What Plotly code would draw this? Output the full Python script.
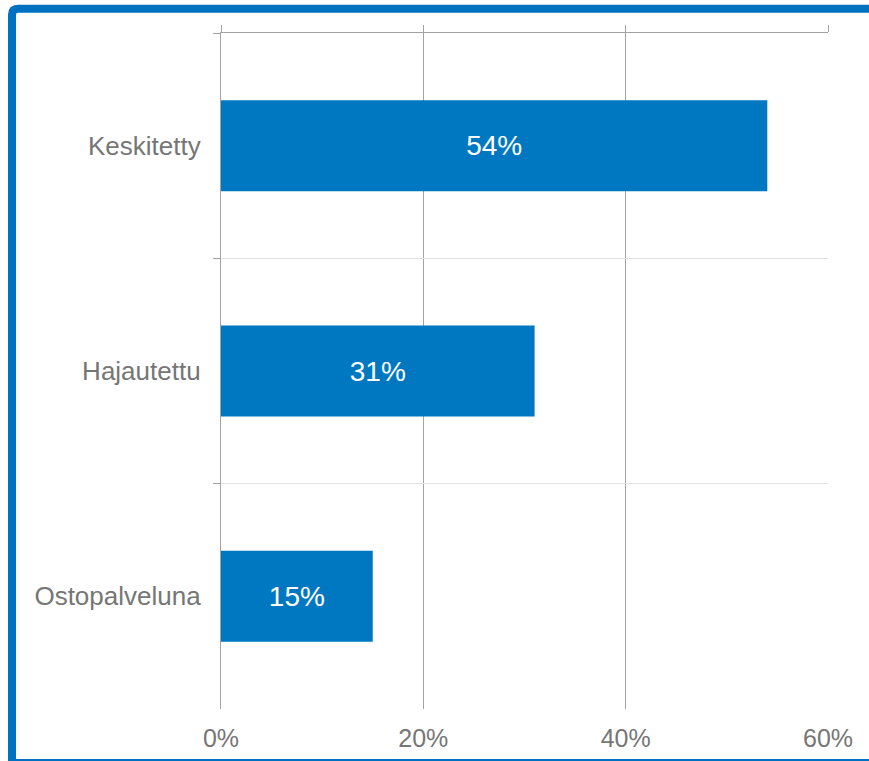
import plotly.graph_objects as go

categories = ["Keskitetty", "Hajautettu", "Ostopalveluna"]
values = [54, 31, 15]
x_ticks = [0, 20, 40, 60]
x_tick_labels = ["0%", "20%", "40%", "60%"]

W, H = 869, 761
L, R, T, B = 221, 41, 33, 52
pw, ph = W - L - R, H - T - B

def px_x(px):
    return (px - L) / pw

def px_y(py):
    return (H - B - py) / ph

BLUE = "#0078C1"
FRAME = "#0070C0"
AXIS = "#A3A3A3"
GRID = "#E2E2E2"
TXT = "#767676"
FONT = "Liberation Sans, Arial, sans-serif"

fig = go.Figure()
fig.add_trace(go.Bar(
    x=values, y=categories, orientation="h",
    marker=dict(color=BLUE, line=dict(width=0)),
    text=[f"{v}%" for v in values], textposition="inside",
    insidetextanchor="middle",
    textfont=dict(color="white", size=28, family=FONT),
    hoverinfo="skip", showlegend=False,
))
# invisible trace to activate top axis
fig.add_trace(go.Scatter(x=[0, 60], y=[categories[0], categories[0]], xaxis="x2",
                         mode="markers", marker=dict(opacity=0), showlegend=False,
                         hoverinfo="skip"))

# frame with rounded top-left corner
x0, y0 = px_x(12), px_y(8.8)
x1, y1 = px_x(880), px_y(763)
r = 6
rx, ry = r / pw, r / ph
path = (f"M {x1},{y0} L {x0+rx},{y0} Q {x0},{y0} {x0},{y0-ry} "
        f"L {x0},{y1} L {x1},{y1}")

fig.update_layout(
    width=W, height=H,
    margin=dict(l=L, r=R, t=T, b=B, pad=0, autoexpand=False),
    paper_bgcolor="white", plot_bgcolor="white",
    bargap=0.596,
    font=dict(family=FONT, color=TXT),
    xaxis=dict(
        range=[0, 60], tickvals=x_ticks, ticktext=x_tick_labels,
        showgrid=True, gridcolor=AXIS, gridwidth=1.3,
        zeroline=False, showline=False, ticks="",
        tickfont=dict(size=25, color=TXT), ticklabelstandoff=12,
        fixedrange=True, automargin=False,
    ),
    xaxis2=dict(
        range=[0, 60], tickvals=x_ticks, overlaying="x", side="top",
        showgrid=False, zeroline=False, showline=True, linecolor=AXIS,
        linewidth=1.3, ticks="outside", ticklen=7, tickcolor=AXIS,
        tickwidth=1.3, showticklabels=False, anchor="y", automargin=False,
    ),
    yaxis=dict(
        type="category", autorange="reversed", tickson="boundaries",
        showgrid=True, gridcolor=GRID, gridwidth=1,
        showline=True, linecolor=AXIS, linewidth=1.3,
        ticks="outside", ticklen=7, tickcolor=AXIS, tickwidth=1.3,
        tickfont=dict(size=26, color=TXT), ticklabelstandoff=14,
        zeroline=False, automargin=False,
    ),
    shapes=[dict(type="path", path=path, xref="paper", yref="paper",
                 line=dict(color=FRAME, width=8), layer="above")],
)

fig.write_html("out.html")
